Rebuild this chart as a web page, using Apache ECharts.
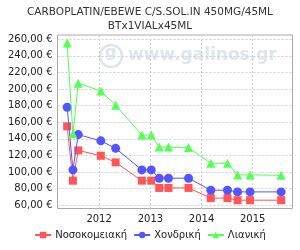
<!DOCTYPE html>
<html><head><meta charset="utf-8">
<script src="https://cdn.jsdelivr.net/npm/echarts@6/dist/echarts.min.js"></script>
<style>html,body{margin:0;padding:0;background:#fff}#c{width:300px;height:250px}</style>
</head><body><div id="c"></div>
<script>
var titleLines = ['CARBOPLATIN/EBEWE C/S.SOL.IN 450MG/45ML', 'BTx1VIALx45ML'];
var dates = ['2011-05-18','2011-06-28','2011-08-05','2012-01-13','2012-04-28','2012-11-01','2013-01-07','2013-03-05','2013-05-10','2013-09-30','2014-03-08','2014-07-05','2014-09-15','2014-12-13','2015-07-23'];
var seriesNames = ['Νοσοκομειακή', 'Χονδρική', 'Λιανική'];
var hospital = [155, 89.5, 126, 119.5, 111.5, 89.5, 89.5, 80.8, 80.8, 80.8, 68.5, 68.5, 66, 66, 66];
var wholesale = [178, 102.5, 145, 137.5, 128.5, 102.5, 102.5, 92.5, 92.5, 92.5, 78, 78, 76, 76, 76];
var retail = [255.5, 146, 207, 197.5, 180.5, 144.5, 144.5, 130, 130, 129.5, 110.5, 110.5, 96.5, 96.5, 96];
var yTicks = [60, 80, 100, 120, 140, 160, 180, 200, 220, 240, 260];
var xYears = [2012, 2013, 2014, 2015];

function pairs(vals) { return dates.map(function (d, i) { return [d, vals[i]]; }); }
var xTickVals = xYears.map(function (y) { return new Date(y, 0, 1).getTime(); });
var font = 'DejaVu Sans';
var colors = ['#ff5555', '#5555ff', '#55ff55'];
var symbols = ['rect', 'circle', 'triangle'];
var data = [hospital, wholesale, retail];
var wm = '#dce5f0';

var chart = echarts.init(document.getElementById('c'), null, {renderer: 'canvas'});
chart.setOption({
  animation: false,
  backgroundColor: '#fff',
  title: {
    text: titleLines.join('\n'), left: 'center', top: 1,
    textStyle: {fontFamily: font, fontSize: 10.5, fontWeight: 'normal', color: '#333', lineHeight: 13.5}
  },
  graphic: [{
    type: 'text', left: 128, top: 47, silent: true, z: 0,
    style: {text: 'www.galinos.gr', fontFamily: font, fontSize: 17, fontWeight: 'bold', fill: wm}
  }, {
    type: 'circle', shape: {cx: 111, cy: 56, r: 11}, silent: true, z: 0,
    style: {fill: 'none', stroke: wm, lineWidth: 2.5}
  }, {
    type: 'text', left: 105, top: 45, silent: true, z: 0,
    style: {text: 'g', fontFamily: font, fontSize: 16, fontWeight: 'bold', fill: wm}
  }],
  legend: {
    bottom: 5, left: 'center', itemWidth: 16, itemHeight: 8, itemGap: 6,
    textStyle: {fontFamily: font, fontSize: 10, color: '#222', padding: [0, 0, 0, -1]},
    data: seriesNames
  },
  grid: {left: 57.5, right: 7.5, top: 35, bottom: 41.5, show: true, borderColor: '#aaaaaa', borderWidth: 1},
  xAxis: {
    type: 'time',
    min: new Date(2011, 2, 10).getTime(), max: new Date(2015, 9, 12).getTime(),
    axisLine: {show: false}, axisTick: {show: false, customValues: xTickVals},
    axisLabel: {customValues: xTickVals, formatter: '{yyyy}', fontFamily: font, fontSize: 10, color: '#222', margin: 6},
    splitLine: {show: true, lineStyle: {color: '#cfcfcf', type: [2, 2], width: 1}}
  },
  yAxis: {
    type: 'value', min: 56, max: 265,
    axisLine: {show: false}, axisTick: {show: false, customValues: yTicks},
    axisLabel: {customValues: yTicks, fontFamily: font, fontSize: 10, color: '#222', margin: 5,
      formatter: function (v) { return v.toFixed(2).replace('.', ',') + ' €'; }},
    splitLine: {show: true, lineStyle: {color: '#cfcfcf', type: [2, 2], width: 1}}
  },
  series: seriesNames.map(function (n, i) {
    return {
      name: n, type: 'line', data: pairs(data[i]), symbol: symbols[i],
      symbolSize: i === 0 ? 8 : 9, showAllSymbol: true,
      itemStyle: {color: colors[i]}, lineStyle: {color: colors[i], width: 1}, z: 3 + i
    };
  })
});
</script></body></html>
